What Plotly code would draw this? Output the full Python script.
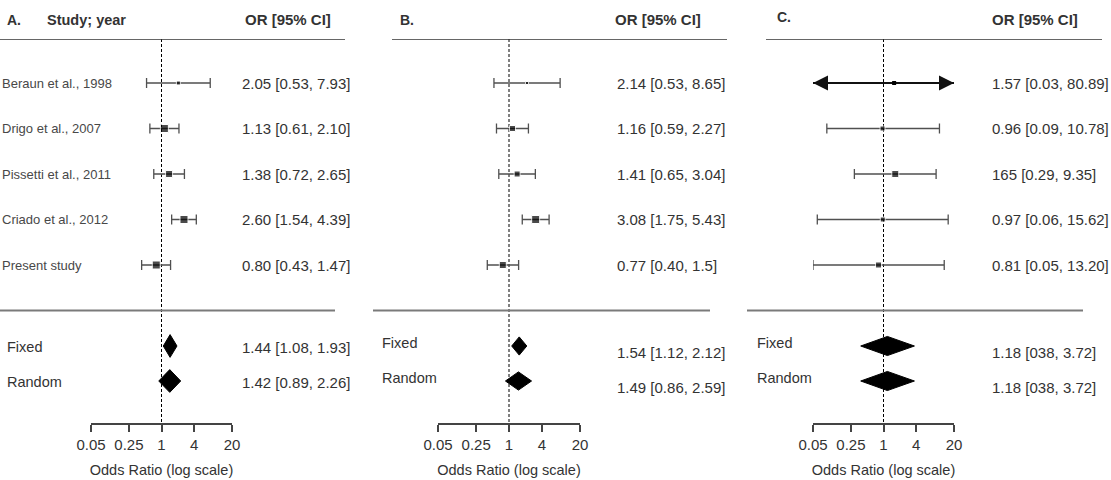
import math
import plotly.graph_objects as go

W, H = 1111, 480
FONT = "Liberation Sans, Arial, sans-serif"

# ---------------- data ----------------
studies = ["Beraun et al., 1998", "Drigo et al., 2007", "Pissetti et al., 2011",
           "Criado et al., 2012", "Present study"]
summary_labels = ["Fixed", "Random"]

a_or = [2.05, 1.13, 1.38, 2.60, 0.80]
a_lo = [0.53, 0.61, 0.72, 1.54, 0.43]
a_hi = [7.93, 2.10, 2.65, 4.39, 1.47]
a_wt = [4, 8, 7, 8, 8]
a_txt = ["2.05 [0.53, 7.93]", "1.13 [0.61, 2.10]", "1.38 [0.72, 2.65]",
         "2.60 [1.54, 4.39]", "0.80 [0.43, 1.47]"]
a_sum_or = [1.44, 1.42]
a_sum_lo = [1.08, 0.89]
a_sum_hi = [1.93, 2.26]
a_sum_txt = ["1.44 [1.08, 1.93]", "1.42 [0.89, 2.26]"]

b_or = [2.14, 1.16, 1.41, 3.08, 0.77]
b_lo = [0.53, 0.59, 0.65, 1.75, 0.40]
b_hi = [8.65, 2.27, 3.04, 5.43, 1.5]
b_wt = [3, 6, 6, 8, 7]
b_txt = ["2.14 [0.53, 8.65]", "1.16 [0.59, 2.27]", "1.41 [0.65, 3.04]",
         "3.08 [1.75, 5.43]", "0.77 [0.40, 1.5]"]
b_sum_or = [1.54, 1.49]
b_sum_lo = [1.12, 0.86]
b_sum_hi = [2.12, 2.59]
b_sum_txt = ["1.54 [1.12, 2.12]", "1.49 [0.86, 2.59]"]

c_or = [1.57, 0.96, 1.65, 0.97, 0.81]
c_lo = [0.03, 0.09, 0.29, 0.06, 0.05]
c_hi = [80.89, 10.78, 9.35, 15.62, 13.20]
c_wt = [4, 5, 7, 5, 6]
c_txt = ["1.57 [0.03, 80.89]", "0.96 [0.09, 10.78]", "165 [0.29, 9.35]",
         "0.97 [0.06, 15.62]", "0.81 [0.05, 13.20]"]
c_sum_or = [1.18, 1.18]
c_sum_lo = [0.38, 0.38]
c_sum_hi = [3.72, 3.72]
c_sum_txt = ["1.18 [038, 3.72]", "1.18 [038, 3.72]"]

tick_vals = [0.05, 0.25, 1, 4, 20]
tick_text = ["0.05", "0.25", "1", "4", "20"]

# ---------------- layout geometry (pixels) ----------------
ROW0_PX, ROW_STEP = 83.0, 45.5
TOP_PX, AXIS_PX = 39.0, 423.0
def px2row(p):
    return (p - ROW0_PX) / ROW_STEP
study_rows = [0, 1, 2, 3, 4]
sep_row = 5
sum_rows = [px2row(346), px2row(381)]
TOP_ROW, AXIS_ROW = px2row(TOP_PX), px2row(AXIS_PX)

panels = [
    dict(ax="x", letter="A.", dom=(91, 232), top=(0, 345), sep=(0, 335),
         letter_x=5, letter_y=20, head_x=243, val_x=240, lab_x=5, show_names=True,
         or_=a_or, lo=a_lo, hi=a_hi, wt=a_wt, txt=a_txt,
         s_or=a_sum_or, s_lo=a_sum_lo, s_hi=a_sum_hi, s_txt=a_sum_txt,
         dh=0.25, lab_shift=-1, val_shift=-1),
    dict(ax="x2", letter="B.", dom=(438, 580), top=(392, 727), sep=(373, 710),
         letter_x=398, letter_y=20, head_x=613, val_x=615, lab_x=380, show_names=False,
         or_=b_or, lo=b_lo, hi=b_hi, wt=b_wt, txt=b_txt,
         s_or=b_sum_or, s_lo=b_sum_lo, s_hi=b_sum_hi, s_txt=b_sum_txt,
         dh=0.2, lab_shift=3, val_shift=-6),
    dict(ax="x3", letter="C.", dom=(813, 954), top=(766, 1102), sep=(747, 1083),
         letter_x=775, letter_y=17, head_x=990, val_x=990, lab_x=755, show_names=False,
         or_=c_or, lo=c_lo, hi=c_hi, wt=c_wt, txt=c_txt,
         s_or=c_sum_or, s_lo=c_sum_lo, s_hi=c_sum_hi, s_txt=c_sum_txt,
         dh=0.21, lab_shift=3, val_shift=-6),
]

XMIN, XMAX = tick_vals[0], tick_vals[-1]

fig = go.Figure()
annotations = []
shapes = []

for p in panels:
    ax = p["ax"]
    # reference dashed line at OR = 1
    fig.add_trace(go.Scatter(
        x=[1, 1], y=[TOP_ROW, AXIS_ROW], xaxis=ax, yaxis="y", mode="lines",
        line=dict(color="black", width=1, dash="3px,2px"),
        showlegend=False, hoverinfo="skip"))
    # study CIs
    normal_idx = [i for i in range(5) if p["lo"][i] >= XMIN and p["hi"][i] <= XMAX]
    arrow_idx = [i for i in range(5) if i not in normal_idx]
    fig.add_trace(go.Scatter(
        x=[p["or_"][i] for i in normal_idx],
        y=[study_rows[i] for i in normal_idx],
        xaxis=ax, yaxis="y", mode="markers",
        marker=dict(symbol="square", color="black", size=[p["wt"][i] for i in normal_idx]),
        error_x=dict(type="data", symmetric=False,
                     array=[p["hi"][i] - p["or_"][i] for i in normal_idx],
                     arrayminus=[p["or_"][i] - p["lo"][i] for i in normal_idx],
                     color="#505050", thickness=1.3, width=5),
        showlegend=False, hoverinfo="skip", cliponaxis=False))
    for i in arrow_idx:
        lo = max(p["lo"][i], XMIN)
        hi = min(p["hi"][i], XMAX)
        fig.add_trace(go.Scatter(
            x=[lo, hi], y=[study_rows[i]] * 2, xaxis=ax, yaxis="y",
            mode="lines+markers",
            line=dict(color="#111111", width=2),
            marker=dict(symbol=["arrow-left" if p["lo"][i] < XMIN else "line-ns",
                                "arrow-right" if p["hi"][i] > XMAX else "line-ns"],
                        size=15, color="#111111", line=dict(width=0)),
            showlegend=False, hoverinfo="skip", cliponaxis=False))
        fig.add_trace(go.Scatter(
            x=[p["or_"][i]], y=[study_rows[i]], xaxis=ax, yaxis="y", mode="markers",
            marker=dict(symbol="square", color="black", size=p["wt"][i]),
            showlegend=False, hoverinfo="skip", cliponaxis=False))
    # summary diamonds
    for k in range(2):
        r = sum_rows[k]
        d = p["dh"]
        fig.add_trace(go.Scatter(
            x=[p["s_lo"][k], p["s_or"][k], p["s_hi"][k], p["s_or"][k], p["s_lo"][k]],
            y=[r, r - d, r, r + d, r],
            xaxis=ax, yaxis="y", mode="lines", fill="toself",
            fillcolor="black", line=dict(color="black", width=1),
            showlegend=False, hoverinfo="skip"))
    # top and separator lines
    shapes.append(dict(type="line", xref="paper", yref="y",
                       x0=p["top"][0] / W, x1=p["top"][1] / W, y0=TOP_ROW, y1=TOP_ROW,
                       line=dict(color="#333333", width=1.5)))
    shapes.append(dict(type="line", xref="paper", yref="y",
                       x0=p["sep"][0] / W, x1=p["sep"][1] / W, y0=sep_row, y1=sep_row,
                       line=dict(color="#7a7a7a", width=2)))
    # headers
    annotations.append(dict(text="<b>" + p["letter"] + "</b>", xref="paper", yref="paper",
                            x=p["letter_x"] / W, y=1 - p["letter_y"] / H,
                            xanchor="left", yanchor="middle", showarrow=False,
                            font=dict(size=14, color="#333333", family=FONT)))
    if p["show_names"]:
        annotations.append(dict(text="<b>Study; year</b>", xref="paper", yref="paper",
                                x=45 / W, y=1 - 20 / H, xanchor="left", yanchor="middle",
                                showarrow=False,
                                font=dict(size=14.5, color="#333333", family=FONT)))
    annotations.append(dict(text="<b>OR [95% CI]</b>", xref="paper", yref="paper",
                            x=p["head_x"] / W, y=1 - 20 / H, xanchor="left",
                            yanchor="middle", showarrow=False,
                            font=dict(size=15, color="#333333", family=FONT)))
    # study names and values
    for i in range(5):
        if p["show_names"]:
            annotations.append(dict(text=studies[i], xref="paper", yref="y",
                                    x=0, y=study_rows[i], xanchor="left", yanchor="middle",
                                    showarrow=False,
                                    font=dict(size=13, color="#484848", family=FONT)))
        annotations.append(dict(text=p["txt"][i], xref="paper", yref="y",
                                x=p["val_x"] / W, y=study_rows[i], xanchor="left",
                                yanchor="middle", showarrow=False,
                                font=dict(size=15, color="#333333", family=FONT)))
    for k in range(2):
        annotations.append(dict(text=summary_labels[k], xref="paper", yref="y",
                                x=p["lab_x"] / W, y=sum_rows[k], yshift=p["lab_shift"],
                                xanchor="left", yanchor="middle", showarrow=False,
                                font=dict(size=14.5, color="#333333", family=FONT)))
        annotations.append(dict(text=p["s_txt"][k], xref="paper", yref="y",
                                x=p["val_x"] / W, y=sum_rows[k], yshift=p["val_shift"],
                                xanchor="left", yanchor="middle", showarrow=False,
                                font=dict(size=15, color="#333333", family=FONT)))

axis_common = dict(
    type="log", range=[math.log10(XMIN), math.log10(XMAX)],
    tickvals=tick_vals, ticktext=tick_text, ticks="outside", ticklen=7,
    tickcolor="#444444", tickwidth=1.5, showline=True, linecolor="#444444",
    linewidth=1.5, showgrid=False, zeroline=False, anchor="y",
    tickfont=dict(size=15, color="#333333", family=FONT),
    title=dict(text="Odds Ratio (log scale)", standoff=13,
               font=dict(size=14.5, color="#333333", family=FONT)),
)

layout = dict(
    width=W, height=H, margin=dict(l=0, r=0, t=0, b=0, autoexpand=False),
    paper_bgcolor="white", plot_bgcolor="white",
    yaxis=dict(domain=[1 - AXIS_PX / H, 1 - TOP_PX / H],
               range=[AXIS_ROW, TOP_ROW], visible=False, fixedrange=True),
    annotations=annotations, shapes=shapes, showlegend=False,
)
for p in panels:
    name = "xaxis" if p["ax"] == "x" else "xaxis" + p["ax"][1:]
    layout[name] = dict(axis_common, domain=[p["dom"][0] / W, p["dom"][1] / W],
                        automargin=False)

fig.update_layout(**layout)
fig.write_html("out.html")
